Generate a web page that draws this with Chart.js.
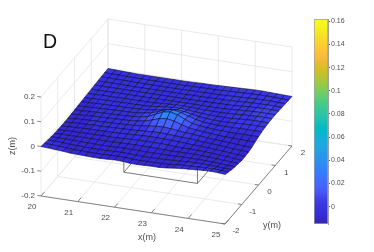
<!DOCTYPE html>
<html>
<head>
<meta charset="utf-8">
<title>Surface D</title>
<script src="https://cdn.jsdelivr.net/npm/chart.js@4"></script>
<style>
    html, body { margin: 0; padding: 0; background: #fff; }
    #wrap { position: relative; width: 374px; height: 252px; overflow: hidden; }
    canvas { position: absolute; top: 0; filter: blur(0.3px); }
    #surface-chart { left: 0; }
    #colorbar-chart { left: 314px; }
</style>
</head>
<body>
<div id="wrap">
    <canvas id="surface-chart" width="374" height="252"></canvas>
    <canvas id="colorbar-chart" width="60" height="252"></canvas>
</div>
<script>
// ── Data ──────────────────────────────────────────────────────
const xValues = [20, 20.2, 20.4, 20.6, 20.8, 21, 21.2, 21.4, 21.6, 21.8, 22, 22.2, 22.4, 22.6, 22.8, 23, 23.2, 23.4, 23.6, 23.8, 24, 24.2, 24.4, 24.6, 24.8, 25];
const yValues = [-2, -1.8, -1.6, -1.4, -1.2, -1, -0.8, -0.6, -0.4, -0.2, 0, 0.2, 0.4, 0.6, 0.8, 1, 1.2, 1.4, 1.6, 1.8, 2];

// surface height in mm, one row per yValues entry
const zRowsMm = [
    [0, -2, -4, -6, -9, -10, -11, -12, -12, -11, -9, -10, -13, -14, -13, -12, -12, -10, -6, -3, -1, 1, 3, 4, 3, 0],
    [-3, -4, -6, -8, -10, -11, -12, -12, -12, -11, -10, -11, -13, -14, -13, -13, -12, -11, -8, -6, -5, -4, -3, -3, -5, -6],
    [-6, -6, -7, -9, -10, -11, -12, -12, -12, -11, -10, -11, -12, -13, -13, -12, -12, -11, -9, -8, -7, -7, -8, -9, -11, -12],
    [-8, -8, -8, -9, -10, -10, -11, -11, -11, -10, -9, -10, -10, -11, -11, -11, -11, -10, -9, -9, -9, -10, -11, -13, -15, -16],
    [-10, -9, -9, -9, -9, -9, -9, -10, -9, -8, -7, -7, -7, -7, -8, -9, -10, -9, -9, -9, -10, -11, -13, -15, -17, -19],
    [-11, -10, -9, -9, -8, -8, -8, -8, -7, -6, -5, -4, -4, -4, -4, -5, -7, -8, -8, -9, -10, -12, -14, -16, -19, -22],
    [-12, -10, -9, -8, -7, -7, -6, -6, -5, -4, -2, -1, 0, 0, -1, -2, -4, -5, -7, -8, -10, -12, -14, -17, -20, -22],
    [-12, -10, -8, -7, -6, -6, -5, -4, -3, -2, -1, 1, 3, 4, 3, 1, -1, -2, -5, -7, -9, -11, -13, -16, -18, -20],
    [-12, -10, -8, -7, -6, -5, -4, -3, -2, 0, 3, 6, 10, 11, 9, 6, 2, 0, -3, -6, -8, -10, -12, -14, -16, -17],
    [-11, -9, -8, -6, -5, -4, -3, -2, -1, 2, 7, 15, 25, 29, 24, 14, 6, 1, -1, -4, -6, -8, -9, -10, -11, -11],
    [-10, -9, -7, -6, -5, -4, -3, -2, 0, 3, 9, 22, 36, 41, 34, 20, 8, 3, 0, -3, -4, -5, -5, -5, -5, -5],
    [-9, -8, -7, -6, -5, -4, -3, -3, -1, 2, 8, 18, 29, 33, 27, 17, 8, 2, 0, -2, -2, -2, -1, -1, -1, -1],
    [-8, -7, -6, -6, -5, -4, -4, -3, -2, 0, 4, 9, 15, 18, 15, 9, 4, 1, -1, -2, -1, 0, 1, 2, 2, 2],
    [-7, -7, -6, -5, -5, -4, -4, -4, -3, -2, 1, 4, 7, 8, 6, 3, 1, -1, -2, -2, -1, 1, 3, 4, 4, 4],
    [-6, -6, -5, -5, -5, -4, -4, -4, -4, -3, -2, 0, 1, 2, 1, -1, -2, -2, -2, -1, 0, 2, 4, 5, 5, 5],
    [-5, -5, -5, -4, -4, -4, -4, -4, -4, -4, -3, -3, -3, -3, -3, -3, -3, -3, -2, -1, 1, 3, 4, 5, 5, 5],
    [-4, -4, -4, -4, -4, -4, -4, -4, -4, -4, -4, -4, -4, -4, -4, -3, -3, -2, -2, -1, 1, 3, 4, 5, 5, 4],
    [-3, -3, -3, -3, -4, -4, -4, -4, -4, -4, -4, -4, -4, -3, -3, -3, -2, -2, -1, 0, 2, 3, 4, 4, 4, 3],
    [-2, -2, -3, -3, -3, -4, -4, -4, -4, -4, -4, -4, -3, -3, -3, -2, -2, -1, 0, 1, 2, 3, 4, 4, 3, 2],
    [-1, -2, -2, -3, -3, -4, -4, -4, -4, -4, -4, -4, -3, -3, -2, -2, -1, 0, 1, 2, 3, 4, 4, 3, 2, 1],
    [0, -1, -2, -3, -4, -4, -4, -4, -4, -4, -4, -4, -3, -2, -2, -1, 0, 1, 2, 3, 4, 4, 3, 2, 1, 0]
];

const xTicks = [20, 21, 22, 23, 24, 25];
const yTicks = [-2, -1, 0, 1, 2];
const zTicks = [-0.2, -0.1, 0, 0.1, 0.2];
const colorbarTicks = [0, 0.02, 0.04, 0.06, 0.08, 0.1, 0.12, 0.14, 0.16];
const colorLimits = [-0.015, 0.162];

// the block standing under the surface
const boxX = [21.5, 23.5];
const boxY = [-0.35, 0.35];
const boxZ = [-0.2, -0.02];

// parula-like colormap, low end a bit deeper as in the picture
const parula = [
    '#3a26a8', '#3428d2', '#3630dc', '#3a36e0', '#4044e8', '#4558f8', '#4563fd', '#3e6fff',
    '#327cfc', '#2e87f7', '#2b91ef', '#259be8', '#20a5e3', '#18addb', '#08b5d0', '#02bac3',
    '#19bfb6', '#2cc4a7', '#37c897', '#4acb84', '#64cd6f', '#81cc59', '#9dc943', '#b9c431',
    '#d1bf27', '#e6bb2d', '#f8ba3d', '#fec338', '#fccf30', '#f7dc2a', '#f5e924', '#f7f51b', '#f9fb15'
];

// ── Projection of the MATLAB view, onto plane coordinates ─────
const origin = { px: 41, py: 196 };          // x=20, y=-2, z=-0.2
const perX = { px: 36.8, py: 5.6 };          // per metre of x
const perY = { px: 16.75, py: -19.5 };       // per metre of y
const perZ = -247.5;                         // per metre of z

function project(x, y, z) {
    const dx = x - xTicks[0];
    const dy = y - yTicks[0];
    const dz = z - zTicks[0];
    return {
        x: origin.px + dx * perX.px + dy * perY.px,
        y: origin.py + dx * perX.py + dy * perY.py + dz * perZ
    };
}

function surfaceColor(z) {
    const t = (z - colorLimits[0]) / (colorLimits[1] - colorLimits[0]);
    const i = Math.round(t * (parula.length - 1));
    return parula[Math.min(parula.length - 1, Math.max(1, i))];
}

function lineSet(points, color, width) {
    return {
        data: points,
        showLine: true,
        fill: false,
        borderColor: color,
        borderWidth: width,
        pointRadius: 0,
        clip: false
    };
}

function buildDatasets() {
    const sets = [];
    const xMin = xTicks[0], xMax = xTicks[xTicks.length - 1];
    const yMin = yTicks[0], yMax = yTicks[yTicks.length - 1];
    const zMin = zTicks[0], zMax = zTicks[zTicks.length - 1];
    const gridColor = '#e4e4e4';
    const axisColor = '#6a6a6a';

    // grid on the floor and the two back walls
    xTicks.forEach(x => {
        sets.push(lineSet([project(x, yMin, zMin), project(x, yMax, zMin), project(x, yMax, zMax)], gridColor, 0.8));
    });
    yTicks.forEach(y => {
        sets.push(lineSet([project(xMax, y, zMin), project(xMin, y, zMin), project(xMin, y, zMax)], gridColor, 0.8));
    });
    zTicks.forEach(z => {
        sets.push(lineSet([project(xMin, yMin, z), project(xMin, yMax, z), project(xMax, yMax, z)], gridColor, 0.8));
    });

    // the block, the surface covers its upper part
    const boxColor = '#5a5a5a';
    sets.push(lineSet([
        project(boxX[0], boxY[1], boxZ[0]), project(boxX[0], boxY[0], boxZ[0]),
        project(boxX[1], boxY[0], boxZ[0]), project(boxX[1], boxY[1], boxZ[0])
    ], boxColor, 0.8));
    sets.push(lineSet([project(boxX[0], boxY[0], boxZ[0]), project(boxX[0], boxY[0], boxZ[1])], boxColor, 0.8));
    sets.push(lineSet([project(boxX[1], boxY[0], boxZ[0]), project(boxX[1], boxY[0], boxZ[1])], boxColor, 0.8));

    // surface cells, far row first
    for (let r = yValues.length - 2; r >= 0; r--) {
        for (let c = 0; c < xValues.length - 1; c++) {
            const z00 = zRowsMm[r][c] / 1000;
            const z10 = zRowsMm[r][c + 1] / 1000;
            const z11 = zRowsMm[r + 1][c + 1] / 1000;
            const z01 = zRowsMm[r + 1][c] / 1000;
            const p = project(xValues[c], yValues[r], z00);
            sets.push({
                data: [
                    p,
                    project(xValues[c + 1], yValues[r], z10),
                    project(xValues[c + 1], yValues[r + 1], z11),
                    project(xValues[c], yValues[r + 1], z01),
                    p
                ],
                showLine: true,
                fill: 'shape',
                backgroundColor: surfaceColor((z00 + z10 + z11 + z01) / 4),
                borderColor: 'rgba(8,4,50,0.85)',
                borderWidth: 0.65,
                pointRadius: 0,
                clip: false
            });
        }
    }

    // front axis lines and their ticks
    sets.push(lineSet([project(xMin, yMin, zMin), project(xMax, yMin, zMin), project(xMax, yMax, zMin)], axisColor, 0.8));
    xTicks.forEach(x => {
        sets.push(lineSet([project(x, yMin, zMin), project(x, yMin + 0.2, zMin)], axisColor, 0.8));
    });
    yTicks.forEach(y => {
        sets.push(lineSet([project(xMax, y, zMin), project(xMax - 0.1, y, zMin)], axisColor, 0.8));
    });
    zTicks.forEach(z => {
        sets.push(lineSet([project(xMin, yMin, z), project(xMin - 0.1, yMin, z)], axisColor, 0.8));
    });

    // Chart.js paints the first dataset last
    return sets.reverse();
}

// ── Texts of the 3D axes ──────────────────────────────────────
const axisTextPlugin = {
    id: 'axisText',
    afterDraw(chart) {
        const { ctx, scales: { x: sx, y: sy } } = chart;
        const xMin = xTicks[0], xMax = xTicks[xTicks.length - 1];
        const yMin = yTicks[0];
        const zMin = zTicks[0];
        const at = p => ({ x: sx.getPixelForValue(p.x), y: sy.getPixelForValue(p.y) });

        ctx.save();
        ctx.fillStyle = '#4d4d4d';
        ctx.textBaseline = 'middle';
        ctx.font = '8px "Liberation Sans", sans-serif';

        ctx.textAlign = 'center';
        xTicks.forEach(x => {
            const p = at(project(x, yMin, zMin));
            ctx.fillText(String(x), p.x - 9, p.y + 11);
        });
        yTicks.forEach(y => {
            const p = at(project(xMax, y, zMin));
            ctx.fillText(String(y), p.x + 11, p.y + 7);
        });
        ctx.textAlign = 'right';
        zTicks.forEach(z => {
            const p = at(project(xMin, yMin, z));
            ctx.fillText(String(z), p.x - 6, p.y);
        });

        ctx.textAlign = 'center';
        ctx.font = '9px "Liberation Sans", sans-serif';
        ctx.fillText('x(m)', 147, 238);
        ctx.fillText('y(m)', 272, 226);
        ctx.save();
        ctx.translate(13, 146);
        ctx.rotate(-Math.PI / 2);
        ctx.fillText('z(m)', 0, 0);
        ctx.restore();

        ctx.fillStyle = '#111';
        ctx.textAlign = 'left';
        ctx.textBaseline = 'alphabetic';
        ctx.font = '19.5px "Liberation Sans", sans-serif';
        ctx.fillText('D', 43, 48);
        ctx.restore();
    }
};

// ── Surface ───────────────────────────────────────────────────
new Chart(document.getElementById('surface-chart'), {
    type: 'scatter',
    data: { datasets: buildDatasets() },
    plugins: [axisTextPlugin],
    options: {
        responsive: false,
        animation: false,
        layout: { padding: 0 },
        plugins: { legend: { display: false }, tooltip: { enabled: false } },
        scales: {
            x: { type: 'linear', min: 0, max: 374, display: false },
            y: { type: 'linear', min: 0, max: 252, reverse: true, display: false }
        }
    }
});

// ── Colorbar ──────────────────────────────────────────────────
function colorbarFill(ctx) {
    const area = ctx.chart.chartArea;
    if (!area) return parula[0];
    const g = ctx.chart.ctx.createLinearGradient(0, area.bottom, 0, area.top);
    parula.forEach((c, i) => g.addColorStop(i / (parula.length - 1), c));
    return g;
}

new Chart(document.getElementById('colorbar-chart'), {
    type: 'bar',
    data: {
        labels: [''],
        datasets: [{
            data: [colorLimits],
            backgroundColor: colorbarFill,
            borderColor: '#a0a0a0',
            borderWidth: 1,
            borderSkipped: false,
            barPercentage: 1,
            categoryPercentage: 1
        }]
    },
    options: {
        responsive: false,
        animation: false,
        layout: { padding: { top: 19, bottom: 28 } },
        plugins: { legend: { display: false }, tooltip: { enabled: false } },
        scales: {
            x: { display: false },
            y: {
                position: 'right',
                min: colorLimits[0],
                max: colorLimits[1],
                afterFit: s => { s.width = 46; },
                afterBuildTicks: s => { s.ticks = colorbarTicks.map(v => ({ value: v })); },
                border: { color: '#a0a0a0' },
                grid: { drawOnChartArea: false, tickLength: 2, tickColor: '#555' },
                ticks: {
                    autoSkip: false,
                    padding: 1,
                    color: '#4d4d4d',
                    font: { family: '"Liberation Sans", sans-serif', size: 7 },
                    callback: v => String(v)
                }
            }
        }
    }
});
</script>
</body>
</html>
